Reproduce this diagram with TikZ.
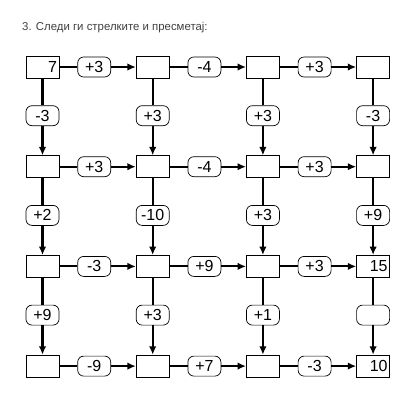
\documentclass[tikz,border=0pt]{standalone}
\usepackage{fontspec}
\setmainfont{Liberation Sans}
\usetikzlibrary{arrows.meta,positioning}

\begin{document}
\begin{tikzpicture}[
  x=1pt, y=1pt,
  node distance=77pt and 76.5pt,
  box/.style={rectangle, draw, line width=0.7pt, minimum height=22pt,
              text width=29pt, inner xsep=2pt, inner ysep=0pt, align=right,
              font=\fontsize{16}{16}\selectfont},
  pill/.style={rectangle, draw, rounded corners=6pt, line width=0.7pt,
               minimum width=33pt, minimum height=20pt, inner sep=0pt,
               font=\fontsize{16}{16}\selectfont},
  link/.style={line width=2.1pt},
  arr/.style={line width=2.1pt, -{Latex[length=8.5pt,width=7.5pt]}}
]
  \useasboundingbox (0,0) rectangle (415,-412);
  \node[anchor=base west, inner sep=0pt, text=black!75,
        font=\fontsize{11.4}{13}\selectfont] (title) at (22,-31)
        {3. Следи ги стрелките и пресметај:};

  % boxes
  \node[box] (b11) at (42.5,-67) {7};
  \node[box, right=of b11] (b12) {};
  \node[box, right=of b12] (b13) {};
  \node[box, right=of b13] (b14) {};
  \node[box, below=of b11] (b21) {};
  \node[box, right=of b21] (b22) {};
  \node[box, right=of b22] (b23) {};
  \node[box, right=of b23] (b24) {};
  \node[box, below=of b21] (b31) {};
  \node[box, right=of b31] (b32) {};
  \node[box, right=of b32] (b33) {};
  \node[box, right=of b33] (b34) {15};
  \node[box, below=of b31] (b41) {};
  \node[box, right=of b41] (b42) {};
  \node[box, right=of b42] (b43) {};
  \node[box, right=of b43] (b44) {10};

  % horizontal steps
  \node[pill, right=18pt of b11] (h11) {+3};
  \node[pill, right=18pt of b12] (h12) {-4};
  \node[pill, right=18pt of b13] (h13) {+3};
  \node[pill, right=18pt of b21] (h21) {+3};
  \node[pill, right=18pt of b22] (h22) {-4};
  \node[pill, right=18pt of b23] (h23) {+3};
  \node[pill, right=18pt of b31] (h31) {-3};
  \node[pill, right=18pt of b32] (h32) {+9};
  \node[pill, right=18pt of b33] (h33) {+3};
  \node[pill, right=18pt of b41] (h41) {-9};
  \node[pill, right=18pt of b42] (h42) {+7};
  \node[pill, right=18pt of b43] (h43) {-3};

  % vertical steps
  \node[pill, below=27pt of b11] (v11) {-3};
  \node[pill, below=27pt of b12] (v12) {+3};
  \node[pill, below=27pt of b13] (v13) {+3};
  \node[pill, below=27pt of b14] (v14) {-3};
  \node[pill, below=27pt of b21] (v21) {+2};
  \node[pill, below=27pt of b22] (v22) {-10};
  \node[pill, below=27pt of b23] (v23) {+3};
  \node[pill, below=27pt of b24] (v24) {+9};
  \node[pill, below=27pt of b31] (v31) {+9};
  \node[pill, below=27pt of b32] (v32) {+3};
  \node[pill, below=27pt of b33] (v33) {+1};
  \node[pill, below=27pt of b34] (v34) {};

  \draw[link] (b11) -- (h11);  \draw[arr] (h11) -- (b12);
  \draw[link] (b12) -- (h12);  \draw[arr] (h12) -- (b13);
  \draw[link] (b13) -- (h13);  \draw[arr] (h13) -- (b14);
  \draw[link] (b21) -- (h21);  \draw[arr] (h21) -- (b22);
  \draw[link] (b22) -- (h22);  \draw[arr] (h22) -- (b23);
  \draw[link] (b23) -- (h23);  \draw[arr] (h23) -- (b24);
  \draw[link] (b31) -- (h31);  \draw[arr] (h31) -- (b32);
  \draw[link] (b32) -- (h32);  \draw[arr] (h32) -- (b33);
  \draw[link] (b33) -- (h33);  \draw[arr] (h33) -- (b34);
  \draw[link] (b41) -- (h41);  \draw[arr] (h41) -- (b42);
  \draw[link] (b42) -- (h42);  \draw[arr] (h42) -- (b43);
  \draw[link] (b43) -- (h43);  \draw[arr] (h43) -- (b44);

  \draw[link] (b11) -- (v11);  \draw[arr] (v11) -- (b21);
  \draw[link] (b12) -- (v12);  \draw[arr] (v12) -- (b22);
  \draw[link] (b13) -- (v13);  \draw[arr] (v13) -- (b23);
  \draw[link] (b14) -- (v14);  \draw[arr] (v14) -- (b24);
  \draw[link] (b21) -- (v21);  \draw[arr] (v21) -- (b31);
  \draw[link] (b22) -- (v22);  \draw[arr] (v22) -- (b32);
  \draw[link] (b23) -- (v23);  \draw[arr] (v23) -- (b33);
  \draw[link] (b24) -- (v24);  \draw[arr] (v24) -- (b34);
  \draw[link] (b31) -- (v31);  \draw[arr] (v31) -- (b41);
  \draw[link] (b32) -- (v32);  \draw[arr] (v32) -- (b42);
  \draw[link] (b33) -- (v33);  \draw[arr] (v33) -- (b43);
  \draw[link] (b34) -- (v34);  \draw[arr] (v34) -- (b44);
\end{tikzpicture}
\end{document}
